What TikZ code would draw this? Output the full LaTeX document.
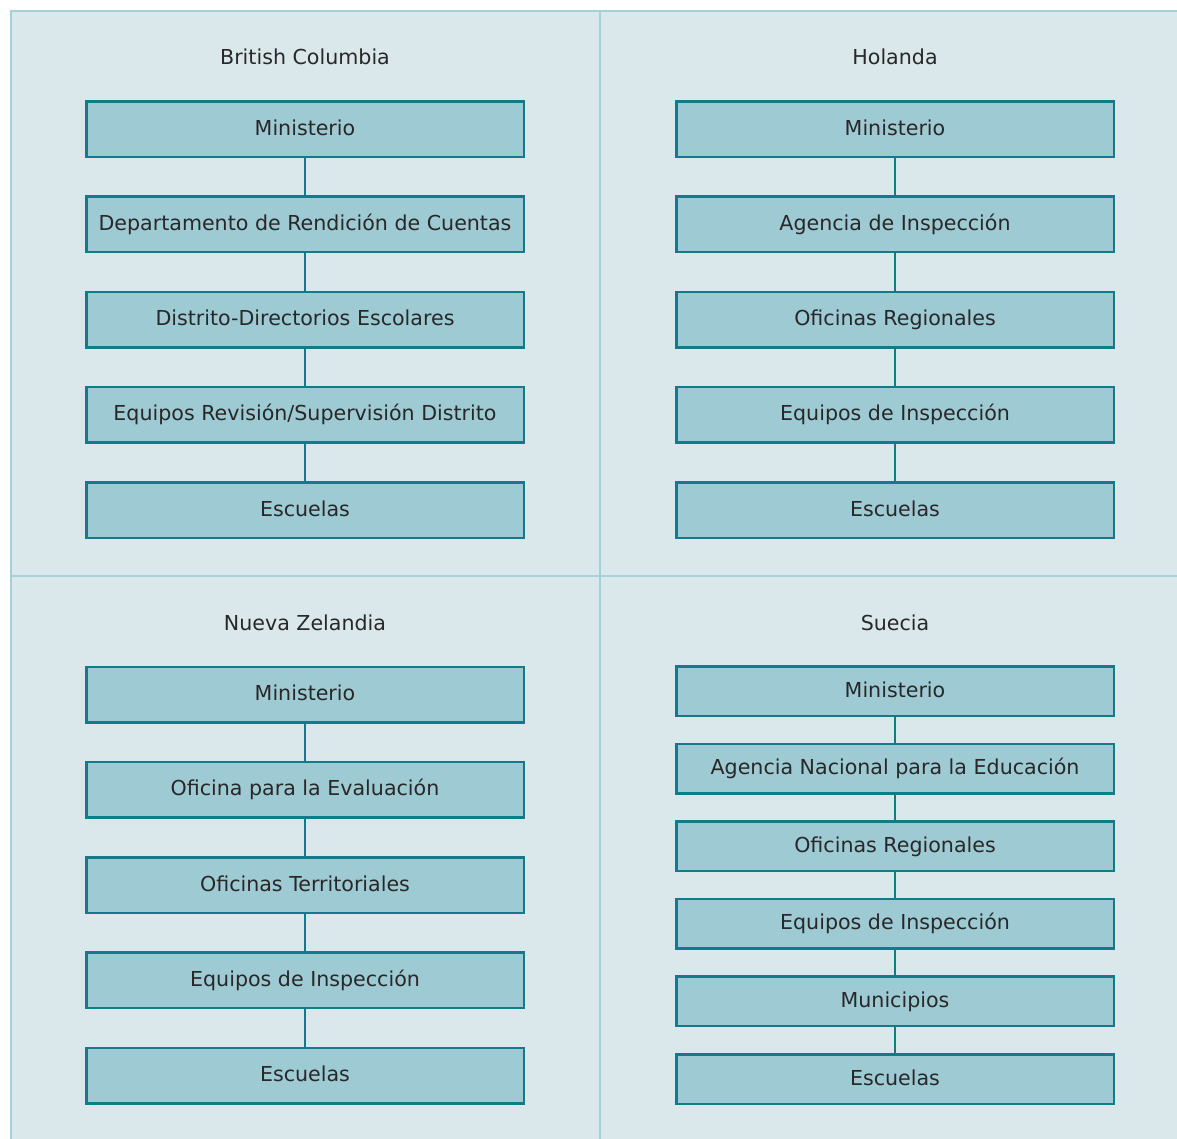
\documentclass[tikz,border=0pt]{standalone}
\usepackage{fontspec}
\setmainfont{DejaVu Sans}
\definecolor{panelfill}{HTML}{DAE8EC}
\definecolor{gridline}{HTML}{A6D0D8}
\definecolor{boxfill}{HTML}{9DCAD3}
\definecolor{boxline}{HTML}{127B8A}
\definecolor{ink}{HTML}{282828}
\begin{document}
\begin{tikzpicture}[x=1pt,y=-1pt,
  font=\fontsize{20.6}{23}\selectfont, text=ink,
  levelbox/.style={draw=boxline, fill=boxfill, line width=2.5pt,
    minimum width=437.5pt, minimum height=55.5pt, inner sep=0pt,
    text height=15pt, text depth=3pt},
  shortbox/.style={levelbox, minimum height=49.5pt},
  title/.style={anchor=base, inner sep=0pt},
  link/.style={draw=boxline, line width=2.5pt}]
\useasboundingbox (0,0) rectangle (1177,1138);
\begin{scope}
\clip (0,0) rectangle (1177,1138);
\fill[white] (0,0) rectangle (1177,1138);
\draw[gridline, line width=2.5pt, fill=panelfill] (11,11) rectangle (1200,1160);
\draw[gridline, line width=2.5pt] (600,11) -- (600,1160);
\draw[gridline, line width=2.5pt] (11,576) -- (1200,576);
\end{scope}

% British Columbia
\node[title] (tbc) at (305,64) {British Columbia};
\node[levelbox] (bc1) at (305,129) {Ministerio};
\node[levelbox] (bc2) at (305,224.3) {Departamento de Rendición de Cuentas};
\node[levelbox] (bc3) at (305,319.6) {Distrito-Directorios Escolares};
\node[levelbox] (bc4) at (305,414.9) {Equipos Revisión/Supervisión Distrito};
\node[levelbox] (bc5) at (305,510.2) {Escuelas};
\draw[link] (bc1) -- (bc2);
\draw[link] (bc2) -- (bc3);
\draw[link] (bc3) -- (bc4);
\draw[link] (bc4) -- (bc5);

% Holanda
\node[title] (tho) at (895,64) {Holanda};
\node[levelbox] (ho1) at (895,129) {Ministerio};
\node[levelbox] (ho2) at (895,224.3) {Agencia de Inspección};
\node[levelbox] (ho3) at (895,319.6) {Oficinas Regionales};
\node[levelbox] (ho4) at (895,414.9) {Equipos de Inspección};
\node[levelbox] (ho5) at (895,510.2) {Escuelas};
\draw[link] (ho1) -- (ho2);
\draw[link] (ho2) -- (ho3);
\draw[link] (ho3) -- (ho4);
\draw[link] (ho4) -- (ho5);

% Nueva Zelandia
\node[title] (tnz) at (305,630) {Nueva Zelandia};
\node[levelbox] (nz1) at (305,694.5) {Ministerio};
\node[levelbox] (nz2) at (305,789.8) {Oficina para la Evaluación};
\node[levelbox] (nz3) at (305,885.1) {Oficinas Territoriales};
\node[levelbox] (nz4) at (305,980.4) {Equipos de Inspección};
\node[levelbox] (nz5) at (305,1075.7) {Escuelas};
\draw[link] (nz1) -- (nz2);
\draw[link] (nz2) -- (nz3);
\draw[link] (nz3) -- (nz4);
\draw[link] (nz4) -- (nz5);

% Suecia
\node[title] (tsu) at (895,630) {Suecia};
\node[shortbox] (su1) at (895,691) {Ministerio};
\node[shortbox] (su2) at (895,768.6) {Agencia Nacional para la Educación};
\node[shortbox] (su3) at (895,846.2) {Oficinas Regionales};
\node[shortbox] (su4) at (895,923.8) {Equipos de Inspección};
\node[shortbox] (su5) at (895,1001.4) {Municipios};
\node[shortbox] (su6) at (895,1079) {Escuelas};
\draw[link] (su1) -- (su2);
\draw[link] (su2) -- (su3);
\draw[link] (su3) -- (su4);
\draw[link] (su4) -- (su5);
\draw[link] (su5) -- (su6);
\end{tikzpicture}
\end{document}
